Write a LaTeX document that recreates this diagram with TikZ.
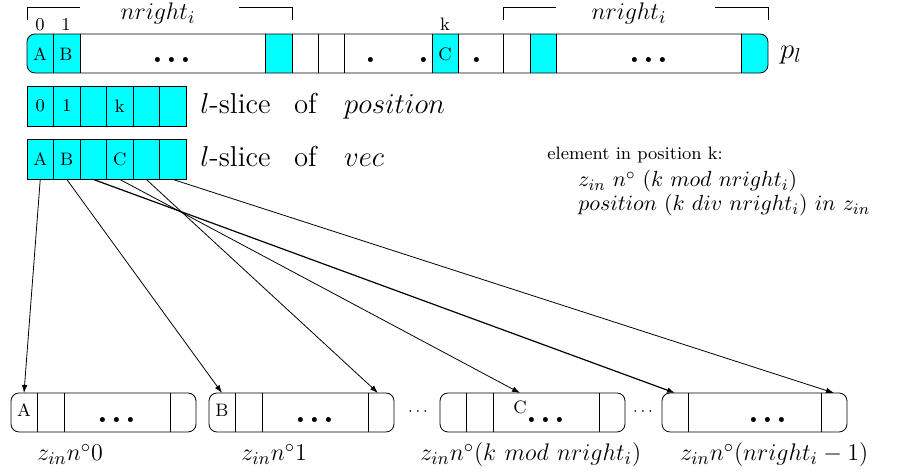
\documentclass[tikz,border=0pt]{standalone}
\usetikzlibrary{arrows.meta}
\definecolor{aqua}{RGB}{0,255,255}
\tikzset{
	cell/.style={draw, fill=aqua, minimum width=13.25pt, minimum height=20pt, inner sep=0pt, font=\small},
	link/.style={-{Latex[length=4pt,width=2.8pt]}, line width=0.4pt},
	dotrow/.style={font=\LARGE\bfseries, inner sep=0pt},
	bigtxt/.style={font=\Large, inner sep=0pt},
	zlab/.style={font=\fontsize{13}{15}\selectfont, inner sep=0pt, anchor=base west}
}
\newcommand{\threedots}{.\kern1.6pt.\kern1.6pt.}

\begin{document}
\begin{tikzpicture}[x=0.5pt, y=-0.5pt]
			%%%%% START %%%%%
			\useasboundingbox (0,0) rectangle (902,474);
			
			% bar p_l
			\begin{scope}
				\clip[rounded corners=4pt] (27,34) rectangle (768,73);
				\fill[aqua] (27,34) rectangle (80,73);
				\fill[aqua] (265,34) rectangle (292,73);
				\fill[aqua] (432,34) rectangle (458,73);
				\fill[aqua] (530,34) rectangle (556,73);
				\fill[aqua] (741,34) rectangle (768,73);
			\end{scope}
			\draw[rounded corners=4pt] (27,34) rectangle (768,73);
			\foreach \x in {53,80,265,292,318,344,432,458,503,530,556,741}
				\draw (\x,34) -- (\x,73);
			
			\node[font=\small] (barA) at (40,54) {A};
			\node[font=\small] (barB) at (66,54) {B};
			\node[font=\small] (barC) at (445,54) {C};
			\node[dotrow] (dots1) at (172,60) {\threedots};
			\node[dotrow] (dot2) at (371,60) {.};
			\node[dotrow] (dot3) at (424,60) {.};
			\node[dotrow] (dot4) at (477,60) {.};
			\node[dotrow] (dots5) at (649,60) {\threedots};
			
			\node[font=\small] (idx0) at (40,25) {0};
			\node[font=\small] (idx1) at (66,25) {1};
			\node[font=\small] (idxk) at (445,24) {k};
			\node[bigtxt] (pl) at (791,55) {$p_l$};
			
			% brackets over the bar
			\draw (27,20) -- (27,7) -- (80,7);
			\draw (239,7) -- (292,7) -- (292,20);
			\node[font=\fontsize{13}{15}\selectfont] (nr1) at (158,14) {$nright_i$};
			\draw (503,20) -- (503,7) -- (556,7);
			\draw (715,7) -- (768,7) -- (768,20);
			\node[font=\fontsize{13}{15}\selectfont] (nr2) at (629,14) {$nright_i$};
			
			% slices
			\foreach \lab [count=\i] in {0,1,{},k,{},{}}
				\node[cell] (p\i) at ({27+26.5*(\i-0.5)},106) {\lab};
			\foreach \lab [count=\i] in {A,B,{},C,{},{}}
				\node[cell] (v\i) at ({27+26.5*(\i-0.5)},159) {\lab};
			\node[bigtxt, anchor=base west] (possl) at (200,114) {$l$-slice\hspace{7pt} of\hspace{9pt} $position$};
			\node[bigtxt, anchor=base west] (vecsl) at (200,167) {$l$-slice\hspace{7pt} of\hspace{9pt} $vec$};
			
			\node[font=\fontsize{9}{10}\selectfont, inner sep=0pt, anchor=base west] (el1) at (547,160) {element in position k:};
			\node[font=\fontsize{11}{13}\selectfont, inner sep=0pt, anchor=base west] (el2) at (578,187) {$z_{in}\ n^\circ\ (k\ mod\ nright_i)$};
			\node[font=\fontsize{11}{13}\selectfont, inner sep=0pt, anchor=base west] (el3) at (578,211) {$position\ (k\ div\ nright_i)\ in\ z_{in}$};
			
			% the z_in vectors
			\foreach \bx in {11,209,440,662}
				\draw[rounded corners=4pt] (\bx,393) rectangle ({\bx+185},432);
			\foreach \bx in {11,209,440}
				\draw ({\bx+26.5},393) -- ({\bx+26.5},432)
					({\bx+53},393) -- ({\bx+53},432)
					({\bx+159},393) -- ({\bx+159},432);
			\draw (688.5,393) -- (688.5,432) (821,393) -- (821,432);
			\foreach \bx [count=\j] in {11,209,440,662}
				\node[dotrow] (zd\j) at ({\bx+106},420) {\threedots};
			\node[font=\small] (zA) at (24,410) {A};
			\node[font=\small] (zB) at (222,410) {B};
			\node[font=\small] (zC) at (520,407) {C};
			\node[font=\footnotesize] (gap1) at (418,412) {$\cdots$};
			\node[font=\footnotesize] (gap2) at (643,412) {$\cdots$};
			
			\node[zlab] (z0) at (37,461) {$z_{in}n^\circ0$};
			\node[zlab] (z1) at (241,461) {$z_{in}n^\circ1$};
			\node[zlab] (zk) at (420,461) {$z_{in}n^\circ(k\ mod\ nright_i)$};
			\node[zlab] (zn) at (680,461) {$z_{in}n^\circ(nright_i-1)$};
			
			\coordinate (t0) at (24,393);
			\coordinate (t1) at (222,393);
			\coordinate (t1e) at (378,393);
			\coordinate (t2) at (520,393);
			\coordinate (t3) at (675,393);
			\coordinate (t3e) at (834,393);
			
			\draw[link] (v1.south) -- (t0);
			\draw[link] (v2.south) -- (t1);
			\draw[link, line width=0.6pt] (v3.south) -- (t3);
			\draw[link] (v4.south) -- (t2);
			\draw[link] (v5.south) -- (t1e);
			\draw[link] (v6.south) -- (t3e);
			%%%%% END %%%%%
\end{tikzpicture}
\end{document}
